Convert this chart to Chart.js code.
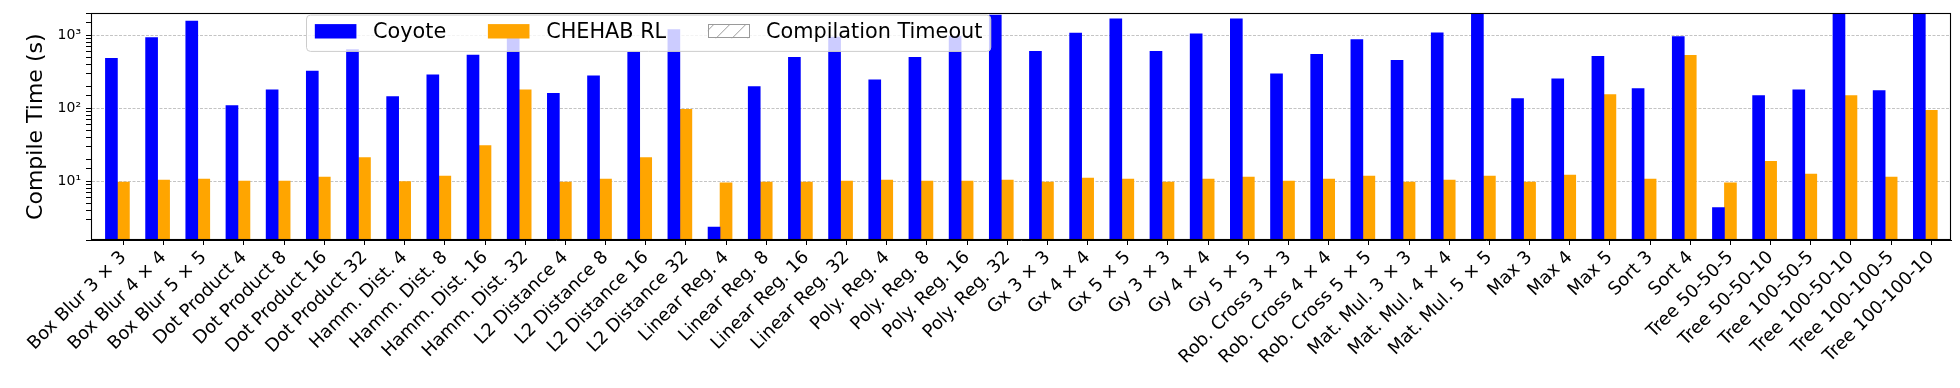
<!DOCTYPE html>
<html>
<head>
<meta charset="utf-8">
<script src="https://cdn.jsdelivr.net/npm/chart.js@4.4.1/dist/chart.umd.min.js"></script>
<style>
html,body{margin:0;padding:0;background:#ffffff;}
#wrap{width:1960px;height:388px;}
</style>
</head>
<body>
<div id="wrap"><canvas id="c" width="1960" height="388"></canvas></div>
<script>
const categories = [
  "Box Blur 3 × 3","Box Blur 4 × 4","Box Blur 5 × 5",
  "Dot Product 4","Dot Product 8","Dot Product 16","Dot Product 32",
  "Hamm. Dist. 4","Hamm. Dist. 8","Hamm. Dist. 16","Hamm. Dist. 32",
  "L2 Distance 4","L2 Distance 8","L2 Distance 16","L2 Distance 32",
  "Linear Reg. 4","Linear Reg. 8","Linear Reg. 16","Linear Reg. 32",
  "Poly. Reg. 4","Poly. Reg. 8","Poly. Reg. 16","Poly. Reg. 32",
  "Gx 3 × 3","Gx 4 × 4","Gx 5 × 5",
  "Gy 3 × 3","Gy 4 × 4","Gy 5 × 5",
  "Rob. Cross 3 × 3","Rob. Cross 4 × 4","Rob. Cross 5 × 5",
  "Mat. Mul. 3 × 3","Mat. Mul. 4 × 4","Mat. Mul. 5 × 5",
  "Max 3","Max 4","Max 5",
  "Sort 3","Sort 4",
  "Tree 50-50-5","Tree 50-50-10","Tree 100-50-5","Tree 100-50-10","Tree 100-100-5","Tree 100-100-10"
];
const coyote = [
  485, 930, 1575,
  109, 180, 324, 641,
  145, 287, 538, 922,
  161, 278, 585, 1205,
  2.36, 198, 501, 950,
  245, 501, 970, 1900,
  603, 1075, 1680,
  603, 1052, 1680,
  296, 550, 875,
  456, 1086, 2000,
  136, 253, 516,
  186, 960,
  4.37, 150, 180, 2000, 175, 2000
];
const chehab = [
  9.8, 10.4, 10.7,
  10.1, 10.1, 11.4, 21.2,
  9.9, 11.8, 30.8, 180,
  9.8, 10.7, 21.2, 97,
  9.5, 9.8, 9.8, 10.1,
  10.4, 10.1, 10.1, 10.4,
  9.8, 11.1, 10.7,
  9.8, 10.7, 11.4,
  10.1, 10.7, 11.8,
  9.8, 10.4, 11.8,
  9.8, 12.2, 154,
  10.7, 532,
  9.5, 18.8, 12.6, 150, 11.4, 94
];
const compilationTimeout = [];
const seriesNames = ["Coyote", "CHEHAB RL", "Compilation Timeout"];
const yTickValues = [10, 100, 1000];
const yTickLabels = ["10¹", "10²", "10³"];

const FONT = "DejaVu Sans";

const framePlugin = {
  id: 'frameAndLegend',
  afterDraw(chart) {
    const ctx = chart.ctx;
    const ca = chart.chartArea;
    ctx.save();
    ctx.strokeStyle = '#000000';
    ctx.lineWidth = 1.1;
    ctx.strokeRect(Math.round(ca.left) + 0.5, Math.round(ca.top) + 0.5,
                   Math.round(ca.right) - Math.round(ca.left) - 1, Math.round(ca.bottom) - Math.round(ca.top) - 1);

    const fs = 20.8;
    ctx.font = fs + 'px "' + FONT + '"';
    const ds = chart.data.datasets;
    const pad = 0.4 * fs, hl = 2.0 * fs, htp = 0.8 * fs, cs = 2.0 * fs;
    const widths = ds.map(d => ctx.measureText(d.label).width);
    const boxW = pad * 2 + ds.length * (hl + htp) + widths.reduce((a, b) => a + b, 0) + (ds.length - 1) * cs;
    const bx = ca.left + 215.5, by = ca.top + 1.7, bh = 36.3;
    const r = 4;
    ctx.beginPath();
    ctx.moveTo(bx + r, by);
    ctx.lineTo(bx + boxW - r, by);
    ctx.quadraticCurveTo(bx + boxW, by, bx + boxW, by + r);
    ctx.lineTo(bx + boxW, by + bh - r);
    ctx.quadraticCurveTo(bx + boxW, by + bh, bx + boxW - r, by + bh);
    ctx.lineTo(bx + r, by + bh);
    ctx.quadraticCurveTo(bx, by + bh, bx, by + bh - r);
    ctx.lineTo(bx, by + r);
    ctx.quadraticCurveTo(bx, by, bx + r, by);
    ctx.closePath();
    ctx.fillStyle = 'rgba(255,255,255,0.8)';
    ctx.fill();
    ctx.strokeStyle = 'rgba(204,204,204,1)';
    ctx.lineWidth = 1;
    ctx.stroke();

    let x = bx + pad;
    const py = by + 9, ph = 14.4;
    const ty = by + 17.5;
    ds.forEach((d, i) => {
      if (i < 2) {
        ctx.fillStyle = d.backgroundColor;
        ctx.fillRect(x, py, hl, ph);
      } else {
        ctx.fillStyle = '#ffffff';
        ctx.fillRect(x, py, hl, ph);
        ctx.save();
        ctx.beginPath();
        ctx.rect(x, py, hl, ph);
        ctx.clip();
        ctx.strokeStyle = '#9a9a9a';
        ctx.lineWidth = 1;
        for (let hx = x - 24; hx < x + hl + 20; hx += 16) {
          ctx.beginPath();
          ctx.moveTo(hx, py + ph);
          ctx.lineTo(hx + ph, py);
          ctx.stroke();
        }
        ctx.restore();
        ctx.strokeStyle = '#9a9a9a';
        ctx.lineWidth = 1;
        ctx.strokeRect(Math.round(x) + 0.5, Math.round(py) + 0.5, Math.round(hl) - 1, Math.round(ph) - 1);
      }
      x += hl + htp;
      ctx.fillStyle = '#000000';
      ctx.textBaseline = 'middle';
      ctx.textAlign = 'left';
      ctx.fillText(d.label, x, ty);
      x += widths[i] + cs;
    });
    ctx.restore();
  }
};

new Chart(document.getElementById('c').getContext('2d'), {
  type: 'bar',
  data: {
    labels: categories.map((_, i) => i),
    datasets: [
      { label: seriesNames[0], data: coyote, backgroundColor: '#0000ff', barThickness: 12 },
      { label: seriesNames[1], data: chehab, backgroundColor: '#ffa500', barThickness: 12 },
      { label: seriesNames[2], data: compilationTimeout, backgroundColor: '#ffffff', borderColor: '#9a9a9a', barThickness: 12 }
    ]
  },
  options: {
    responsive: false,
    animation: false,
    devicePixelRatio: 1,
    layout: { padding: { left: 0, right: 9, top: 9, bottom: 0 } },
    plugins: { legend: { display: false }, tooltip: { enabled: false } },
    scales: {
      x: {
        type: 'linear',
        min: -0.807,
        max: 45.49,
        bounds: 'ticks',
        offset: false,
        grid: { display: true, drawOnChartArea: false, drawTicks: true, tickLength: 5, tickColor: '#000000', offset: false, lineWidth: 1 },
        border: { display: true, color: '#000000', width: 1 },
        ticks: {
          stepSize: 1, autoSkip: false, includeBounds: false,
          minRotation: 45, maxRotation: 45,
          color: '#000000', padding: 2,
          font: { family: FONT, size: 18 },
          callback: (v) => {
            const i = Math.round(v);
            return (Math.abs(v - i) < 1e-6 && categories[i] !== undefined) ? categories[i] : '';
          }
        },
        afterFit: (s) => { s.height = 148; }
      },
      y: {
        type: 'logarithmic',
        min: 1.57,
        max: 2000,
        z: 1,
        grid: {
          color: (c) => (c.tick && yTickValues.includes(c.tick.value)) ? 'rgba(176,176,176,0.75)' : 'rgba(0,0,0,0)',
          tickColor: '#000000', tickLength: 5, drawTicks: true, lineWidth: 1
        },
        border: { display: true, color: '#000000', width: 1, dash: [3, 1.5] },
        ticks: {
          autoSkip: false, color: '#000000', padding: 5,
          font: { family: FONT, size: 14 },
          callback: (v) => { const i = yTickValues.indexOf(v); return i >= 0 ? yTickLabels[i] : ''; }
        },
        title: { display: true, text: 'Compile Time (s)', color: '#000000', font: { family: FONT, size: 22 }, padding: { top: 23, bottom: 0 } },
        afterFit: (s) => { s.width = 91; }
      }
    }
  },
  plugins: [framePlugin]
});
</script>
</body>
</html>
